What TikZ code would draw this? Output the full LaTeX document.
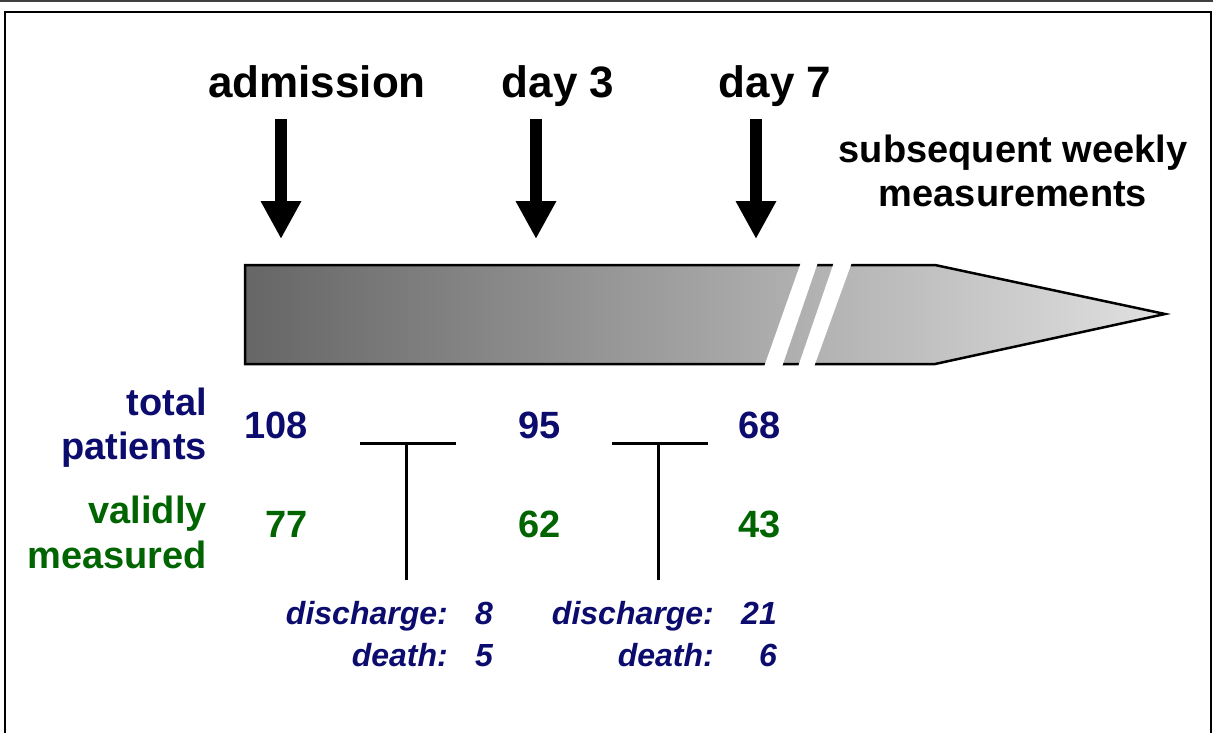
\documentclass[tikz,border=0pt]{standalone}
\usepackage{fontspec}
\setmainfont{Liberation Sans}
\usetikzlibrary{arrows.meta,positioning}
\definecolor{navy}{RGB}{12,12,110}
\definecolor{leaf}{RGB}{0,100,0}

\begin{document}
\begin{tikzpicture}
    [x=1pt,y=-1pt,
    heading/.style={font=\fontsize{44}{50}\selectfont\bfseries, inner sep=0pt, anchor=base},
    note/.style={font=\fontsize{38}{44}\selectfont\bfseries, inner sep=0pt, align=center},
    rowname/.style={font=\fontsize{38}{44}\selectfont\bfseries, inner sep=0pt, anchor=base east},
    count/.style={font=\fontsize{38}{44}\selectfont\bfseries, inner sep=0pt, anchor=base east},
    loss/.style={font=\fontsize{32}{38}\selectfont\bfseries\itshape, inner sep=0pt,
    anchor=base east, text=navy},
    pointer/.style={line width=12pt, -{Triangle[width=38pt,length=38pt]}},
    tbar/.style={draw, line width=3pt}]

    \useasboundingbox (0,0) rectangle (1213,732);
    \fill[black!75] (0,0) rectangle (1213,1.5);
    \draw[line width=2.5pt] (5,745) -- (5,12) -- (1211,12) -- (1211,745);

    % time points
    \node [heading] (admission) at (317,97) {admission};
    \node [heading] (day3) at (558,97) {day 3};
    \node [heading] (day7) at (775,97) {day 7};
    \node [note, anchor=base] (weekly) at (1013,162) {subsequent weekly};
    \node [note, anchor=base] (weekly2) at (1013,206) {measurements};

    \coordinate (adm_top) at (281,119);
    \coordinate (adm_tip) at (281,239);
    \coordinate (d3_top) at (536,119);
    \coordinate (d3_tip) at (536,239);
    \coordinate (d7_top) at (756,119);
    \coordinate (d7_tip) at (756,239);
    \draw [pointer] (adm_top) -- (adm_tip);
    \draw [pointer] (d3_top) -- (d3_tip);
    \draw [pointer] (d7_top) -- (d7_tip);

    % time bar with break
    \path [shade, left color=black!60, middle color=black!24, right color=black!12,
    draw=black, line width=2.5pt]
        (245,265) -- (935,265) -- (1165,314) -- (935,364) -- (245,364) -- cycle;
    \fill [white] (801.4,261) -- (818.4,261) -- (781.6,368) -- (763.6,368) -- cycle;
    \fill [white] (834.4,261) -- (852.4,261) -- (813.6,368) -- (797.6,368) -- cycle;

    % counts
    \node [rowname, text=navy] (total) at (207,415) {total};
    \node [rowname, text=navy] (patients) at (207,459) {patients};
    \node [rowname, text=leaf] (validly) at (207,523) {validly};
    \node [rowname, text=leaf] (measured) at (207,568) {measured};

    \node [count, text=navy] (tot_adm) at (308,438) {108};
    \node [count, text=navy] (tot_d3) at (561,438) {95};
    \node [count, text=navy] (tot_d7) at (781,438) {68};
    \node [count, text=leaf] (val_adm) at (308,537) {77};
    \node [count, text=leaf] (val_d3) at (561,537) {62};
    \node [count, text=leaf] (val_d7) at (781,537) {43};

    % dropouts
    \coordinate (t1_l) at (360,443);
    \coordinate (t1_r) at (456,443);
    \coordinate (t1_m) at (406,443);
    \coordinate (t1_b) at (406,580);
    \coordinate (t2_l) at (612,443);
    \coordinate (t2_r) at (708,443);
    \coordinate (t2_m) at (658,443);
    \coordinate (t2_b) at (658,580);
    \begin{scope}[every path/.style=tbar]
        \path (t1_l) -- (t1_r);
        \path (t1_m) -- (t1_b);
        \path (t2_l) -- (t2_r);
        \path (t2_m) -- (t2_b);
    \end{scope}

    \node [loss] (dis1) at (448,624) {discharge:};
    \node [loss] (dis1n) at (493,624) {8};
    \node [loss] (death1) at (448,666) {death:};
    \node [loss] (death1n) at (493,666) {5};
    \node [loss] (dis2) at (714,624) {discharge:};
    \node [loss] (dis2n) at (777,624) {21};
    \node [loss] (death2) at (714,666) {death:};
    \node [loss] (death2n) at (777,666) {6};
\end{tikzpicture}
\end{document}
